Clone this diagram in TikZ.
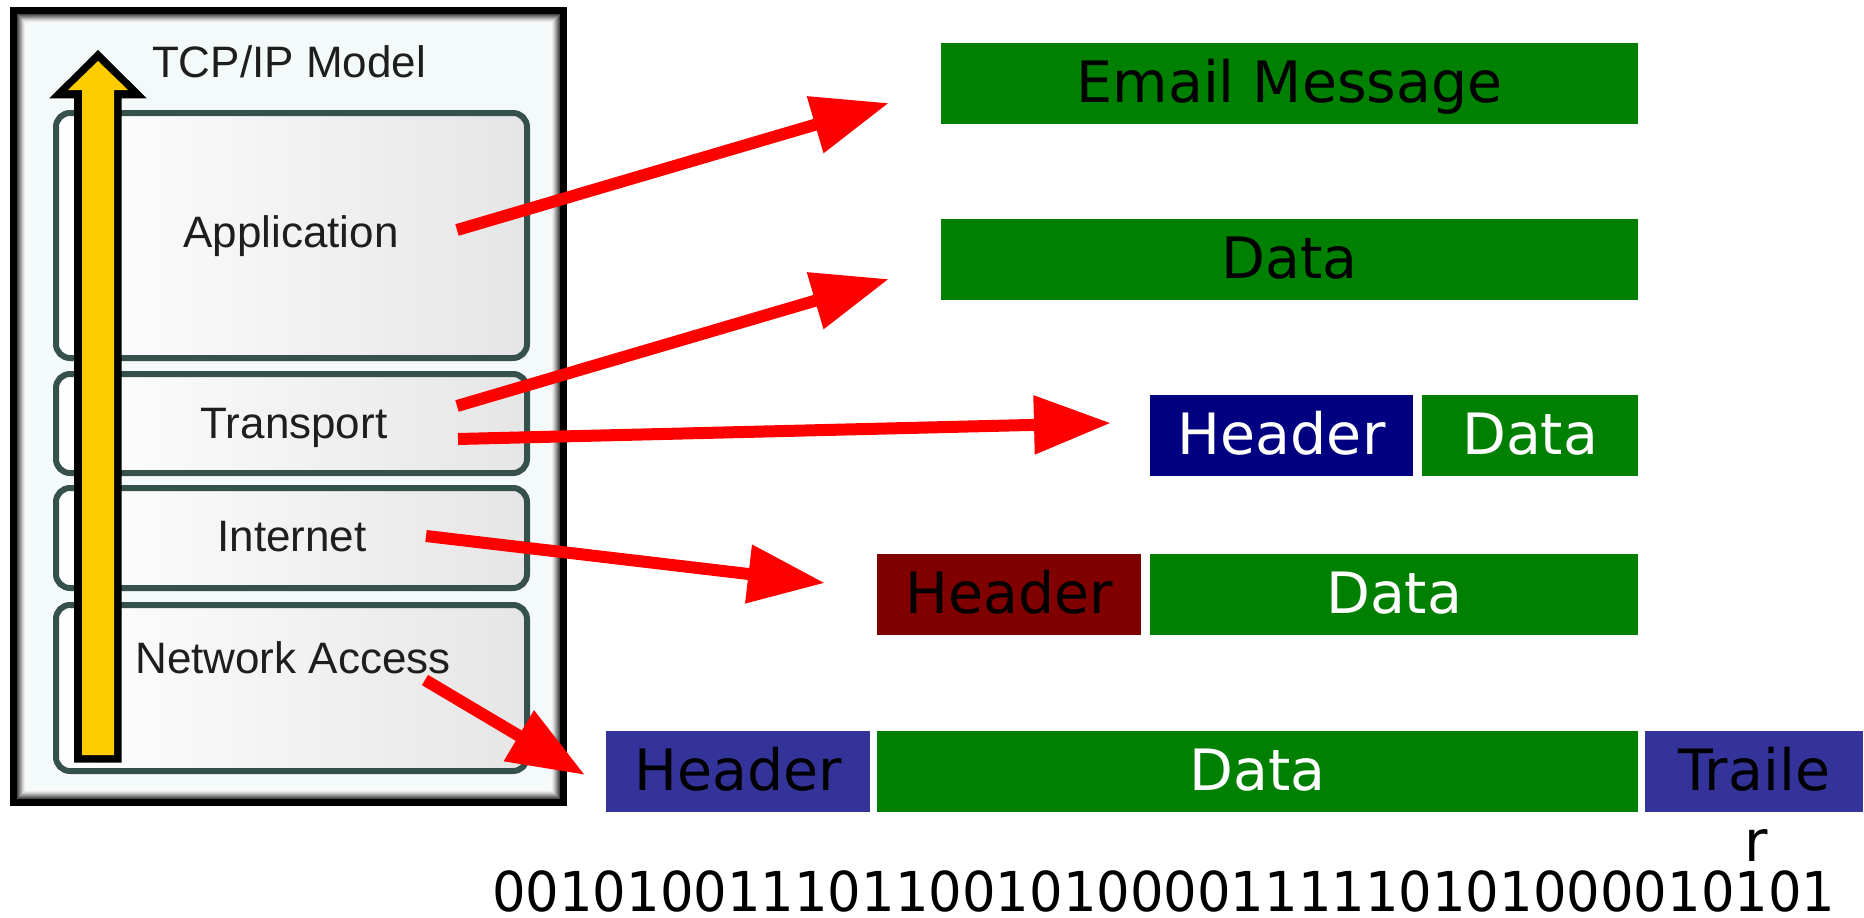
\documentclass[tikz,border=0pt]{standalone}
\usepackage{fontspec}
\usepackage{graphicx}
\usetikzlibrary{arrows.meta}
\newfontfamily\layerfont{Liberation Sans}
\newfontfamily\pktfont{DejaVu Sans}
\definecolor{pktgreen}{RGB}{0,128,0}
\definecolor{pktnavy}{RGB}{0,0,128}
\definecolor{pktmaroon}{RGB}{128,0,0}
\definecolor{pktblue}{RGB}{51,51,153}
\definecolor{layeredge}{RGB}{54,80,76}
\definecolor{stackyellow}{RGB}{255,204,0}
\definecolor{panelbg}{RGB}{244,249,249}
\definecolor{labelgray}{RGB}{30,30,30}

\begin{document}
\begin{tikzpicture}[x=1pt,y=-1pt,
  layerbox/.style={draw=layeredge, line width=6pt, rounded corners=14pt,
    left color=white, right color=black!10, inner sep=0pt, anchor=north west},
  layertext/.style={font=\fontsize{44}{50}\selectfont\layerfont, text=labelgray,
    anchor=base, inner sep=0pt},
  pkt/.style={inner sep=0pt, anchor=north west, minimum height=81pt,
    font=\fontsize{57}{68}\selectfont\pktfont, text height=44pt, text depth=6pt},
  sendarrow/.style={draw=red, line width=12pt, -{Triangle[length=77pt,width=56pt]}},
]
\useasboundingbox (0,0) rectangle (1864,918);
\fill[white] (0,0) rectangle (1864,918);

% framed panel of the layer stack
\fill[black] (10,7) rectangle (567,806);
\foreach \i/\s in {0/72,1/62,2/52,3/42,4/32,5/22,6/14,7/8,8/4,9/2}
  \fill[black!\s] (17+\i,14+\i) rectangle (560-\i,799-\i);
\fill[panelbg] (27,24) rectangle (550,789);

% the four layers
\node[layerbox, minimum width=471pt, minimum height=245pt] (app) at (53,110) {};
\node[layerbox, minimum width=471pt, minimum height=99pt] (trans) at (53,371) {};
\node[layerbox, minimum width=471pt, minimum height=100pt] (inet) at (53,485) {};
\node[layerbox, minimum width=471pt, minimum height=166pt] (netacc) at (53,602) {};

\node[layertext] (title) at (289,77) {TCP/IP Model};
\node[layertext] (appL) at (291,247) {Application};
\node[layertext] (transL) at (294,438) {Transport};
\node[layertext] (inetL) at (292,551) {Internet};
\node[layertext] (netL) at (293,673) {Network Access};

% upward arrow through the stack
\fill[black] (98,50) -- (146.7,98.3) -- (121.7,98.3) -- (121.7,762.7)
  -- (74,762.7) -- (74,98.3) -- (49.3,98.3) -- cycle;
\fill[stackyellow] (98,61) -- (128,90) -- (114,90) -- (114,755)
  -- (82,755) -- (82,90) -- (68,90) -- cycle;

% data units
\node[pkt, fill=pktgreen, minimum width=697pt] (email) at (941,43) {Email Message};
\node[pkt, fill=pktgreen, minimum width=697pt] (appdata) at (941,219) {Data};

\node[pkt, fill=pktnavy, text=white, minimum width=263pt] (tcphdr) at (1150,395) {Header};
\node[pkt, fill=pktgreen, text=white, minimum width=216pt] (tcpdata) at (1422,395) {Data};

\node[pkt, fill=pktmaroon, minimum width=264pt] (iphdr) at (877,554) {Header};
\node[pkt, fill=pktgreen, text=white, minimum width=488pt] (ipdata) at (1150,554) {Data};

\node[pkt, fill=pktblue, minimum width=264pt] (ethhdr) at (606,731) {Header};
\node[pkt, fill=pktgreen, text=white, minimum width=761pt] (ethdata) at (877,731) {Data};
\node[pkt, fill=pktblue, minimum width=218pt] (ethtrl) at (1645,731) {Traile};
\node[font=\fontsize{57}{68}\selectfont\pktfont, anchor=base, inner sep=0pt] (ethtrlr) at (1756,861) {r};

\node[font=\fontsize{55}{66}\selectfont\pktfont, anchor=base, inner sep=0pt] (bits) at (1164,911)
  {\scalebox{0.96}[1]{0010100111011001010000111110101000010101}};

% encapsulation arrows
\coordinate (appOut) at (457,230);
\coordinate (emailIn) at (889,103);
\coordinate (transOutA) at (457,406);
\coordinate (dataIn) at (889,279);
\coordinate (transOutB) at (458,439);
\coordinate (segIn) at (1111,423);
\coordinate (inetOut) at (426,536);
\coordinate (pktIn) at (825,583);
\coordinate (netOut) at (425,680);
\coordinate (frameIn) at (585,775);

\draw[sendarrow] (appOut) -- (emailIn);
\draw[sendarrow] (transOutA) -- (dataIn);
\draw[sendarrow] (transOutB) -- (segIn);
\draw[sendarrow] (inetOut) -- (pktIn);
\draw[sendarrow] (netOut) -- (frameIn);
\end{tikzpicture}
\end{document}
